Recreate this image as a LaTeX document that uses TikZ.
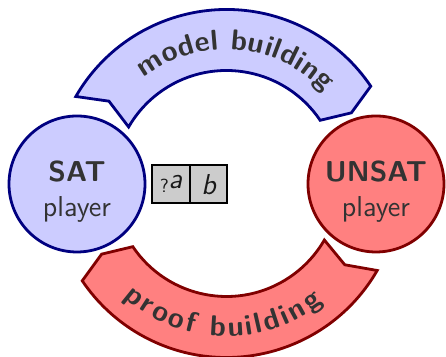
\documentclass[tikz,border=0pt]{standalone}
\usepackage{fontspec}
\renewcommand{\familydefault}{\sfdefault}
\usetikzlibrary{positioning,decorations.text}

\begin{document}
\begin{tikzpicture}[x=0.5pt,y=0.5pt,line width=1.4pt,text=black!80]
  \tikzstyle{player}=[circle,minimum size=68pt,inner sep=0pt,align=center,font=\fontsize{14.4}{17.2}\selectfont]
  \tikzstyle{satside}=[fill=blue!20,draw=blue!50!black]
  \tikzstyle{unsatside}=[fill=red!50,draw=red!50!black]
  \tikzstyle{cell}=[rectangle,draw=black,fill=black!20,line width=1pt,minimum width=18.8pt,minimum height=19pt,inner sep=0pt,outer sep=0pt,text=black!90,font=\fontsize{14.4}{15}\selectfont]
  \tikzstyle{bandtext}=[decoration={text along path,text align={fit to path},text color=black!80},postaction={decorate}]

  \useasboundingbox (0,0) rectangle (446,357);

  % the two curved arrows
  \begin{scope}[shift={(226.5,173.5)}]
    \draw[satside] (150:174) arc[start angle=150,end angle=34,radius=174] -- (29.5:143.5)
      -- (34:113) arc[start angle=34,end angle=150,radius=113] -- (145:143.5) -- cycle;
    \draw[unsatside] (330:174) arc[start angle=330,end angle=214,radius=174] -- (209.5:143.5)
      -- (214:113) arc[start angle=214,end angle=330,radius=113] -- (325.5:143.5) -- cycle;
    \path[bandtext,decoration={text={|\bfseries\fontsize{14.4}{14.4}\selectfont|model building}}]
      (128:134) arc[start angle=128,end angle=43,radius=134];
    \path[bandtext,decoration={text={|\bfseries\fontsize{14.4}{14.4}\selectfont|proof building}}]
      (228:153) arc[start angle=228,end angle=309,radius=153];
  \end{scope}

  % players
  \node[player,satside] (sat) at (77,173) {\rule{0pt}{18pt}{\bfseries SAT}\\player};
  \node[player,unsatside] (unsat) at (376,173) {\rule{0pt}{18pt}{\bfseries UNSAT}\\player};

  % the clause
  \node[cell] (qa) at (171,172.7) {{\fontsize{9.5}{10}\selectfont ?}\raisebox{2pt}{\itshape a}};
  \node[cell,right=0pt of qa] (qb) {\itshape b};
\end{tikzpicture}
\end{document}
